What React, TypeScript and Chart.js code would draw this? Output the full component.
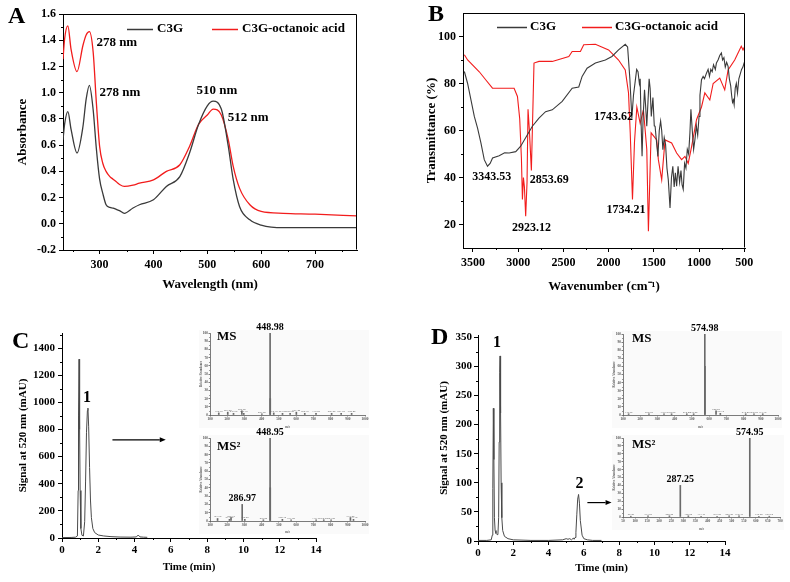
import React, { useEffect, useRef } from 'react';
import { Chart, registerables } from 'chart.js';

Chart.register(...registerables);

const SERIF = '"Liberation Serif", "Times New Roman", Times, serif';
Chart.defaults.font.family = SERIF;

// ---------------- Panel A : UV-vis ----------------
const uvWavelength = [232, 235, 241, 247, 258, 269, 275, 281, 288, 294, 300, 306, 312, 319, 325, 331, 337, 346, 362, 374, 400, 424, 449, 467, 484, 500, 511, 526, 539, 548, 560, 579, 600, 641, 700, 778];
const uvC3G = [0.64, 0.76, 0.855, 0.72, 0.54, 0.74, 0.95, 1.056, 0.87, 0.57, 0.34, 0.23, 0.145, 0.125, 0.12, 0.11, 0.1, 0.08, 0.12, 0.145, 0.183, 0.285, 0.36, 0.54, 0.76, 0.9, 0.935, 0.875, 0.59, 0.34, 0.13, 0.03, -0.01, -0.03, -0.03, -0.03];
const uvC3GOctanoic = [1.255, 1.41, 1.51, 1.33, 1.16, 1.36, 1.44, 1.465, 1.31, 0.92, 0.59, 0.46, 0.4, 0.36, 0.34, 0.32, 0.3, 0.285, 0.295, 0.31, 0.335, 0.4, 0.45, 0.59, 0.76, 0.83, 0.875, 0.83, 0.64, 0.44, 0.27, 0.145, 0.094, 0.08, 0.073, 0.06];
const uvTicksX = [300, 400, 500, 600, 700];
const uvMinorX = [250, 350, 450, 550, 650, 750];
const uvTicksY = [-0.2, 0, 0.2, 0.4, 0.6, 0.8, 1.0, 1.2, 1.4, 1.6];
const uvMinorY = [-0.1, 0.1, 0.3, 0.5, 0.7, 0.9, 1.1, 1.3, 1.5];

// ---------------- Panel B : FT-IR ----------------
const irC3GWavenumber = [3595, 3559, 3522, 3485, 3449, 3412, 3375, 3339, 3310, 3283, 3210, 3150, 3100, 3027, 2972, 2898, 2843, 2770, 2697, 2623, 2513, 2403, 2330, 2293, 2238, 2146, 2036, 1963, 1890, 1816, 1790, 1765, 1743, 1725, 1706, 1690, 1675, 1660, 1651, 1640, 1630, 1618, 1603, 1590, 1578, 1565, 1552, 1541, 1528, 1510, 1495, 1486, 1470, 1455, 1440, 1425, 1413, 1400, 1385, 1370, 1355, 1340, 1321, 1305, 1290, 1275, 1262, 1248, 1232, 1215, 1200, 1188, 1175, 1160, 1145, 1130, 1115, 1101, 1090, 1075, 1060, 1046, 1030, 1015, 1000, 990, 973, 955, 940, 918, 900, 885, 870, 855, 840, 820, 808, 790, 770, 753, 740, 725, 710, 695, 679, 665, 650, 640, 630, 620, 612, 600, 588, 575, 560, 545, 530, 515, 500];
const irC3GTransmittance = [85.1, 80, 73, 66, 61, 54.7, 47.6, 44.8, 46, 48.3, 49.3, 50.5, 50.4, 51, 53.3, 58.2, 61.8, 65.3, 68, 68.8, 72.4, 78, 78.5, 83, 86.5, 88.7, 90, 91.5, 94.3, 96.7, 95.5, 82, 65.3, 75, 80.9, 86, 85, 80, 82, 62, 49, 66, 77.3, 70, 61.8, 72, 82, 78, 66, 74, 62, 61.8, 55, 49, 60, 64, 60, 51.8, 57, 54, 44, 39, 27, 40, 44.8, 36, 42, 36.3, 44.8, 38, 43, 37, 35, 46, 44, 52, 50, 59, 69, 60, 52, 56, 62, 58, 66, 75, 81.6, 83, 82, 84.4, 86, 83, 86, 85, 88, 86, 88.7, 90, 92, 93, 90, 91, 87, 89, 87.3, 82, 79, 75, 72, 73, 71, 78, 80, 76, 82, 84, 86, 87, 89];
const irOctWavenumber = [3595, 3559, 3430, 3357, 3284, 3045, 3008, 2983, 2964, 2953, 2942, 2931, 2917, 2902, 2891, 2876, 2854, 2840, 2825, 2770, 2623, 2440, 2403, 2312, 2275, 2146, 2000, 1890, 1816, 1780, 1761, 1736, 1714, 1688, 1651, 1615, 1578, 1560, 1530, 1468, 1450, 1413, 1376, 1303, 1248, 1193, 1156, 1120, 1083, 1028, 973, 936, 881, 844, 771, 716, 679, 606, 533, 514, 496];
const irOctTransmittance = [92.2, 90, 85, 81.5, 78, 78, 74.5, 65, 48, 30.6, 40, 36, 23.5, 38, 69, 60, 43, 65, 88.7, 89.4, 89.4, 91.5, 93.6, 93.6, 96.5, 96.7, 94.3, 90, 85.8, 76, 59, 30.6, 55, 70, 63, 68.8, 52, 17.1, 59, 56, 47.6, 39, 56, 54.7, 50.4, 47.6, 49, 46, 53, 64.6, 70, 76, 73, 80, 82.3, 77.3, 85.8, 90, 95.8, 94.3, 95.8];
const irTicksX = [3500, 3000, 2500, 2000, 1500, 1000, 500];
const irMinorX = [3250, 2750, 2250, 1750, 1250, 750];
const irTicksY = [20, 40, 60, 80, 100];
const irMinorY = [30, 50, 70, 90];

// ---------------- Panel C : HPLC of C3G ----------------
const hplcCTime = [0, 0.5, 0.75, 0.85, 0.89, 0.91, 0.94, 0.97, 1.0, 1.04, 1.1, 1.18, 1.25, 1.3, 1.35, 1.4, 1.43, 1.47, 1.52, 1.57, 1.62, 1.7, 1.8, 2.0, 2.3, 2.7, 3.2, 3.8, 4.1, 4.2, 4.3, 4.5, 4.7];
const hplcCSignal = [3, 4, 6, 15, 350, 900, 1319, 800, 350, 70, 20, 15, 120, 420, 780, 940, 958, 820, 520, 280, 150, 70, 40, 22, 15, 10, 7, 6, 8, 22, 8, 6, 5];
const hplcCTicksY = [0, 200, 400, 600, 800, 1000, 1200, 1400];
const hplcCMinorY = [100, 300, 500, 700, 900, 1100, 1300, 1500];

// ---------------- Panel D : HPLC of C3G-octanoic acid ----------------
const hplcDTime = [0, 0.5, 0.75, 0.81, 0.84, 0.87, 0.9, 0.93, 0.97, 1.02, 1.08, 1.13, 1.17, 1.2, 1.23, 1.25, 1.28, 1.31, 1.35, 1.4, 1.5, 1.7, 2.0, 3.0, 4.0, 4.8, 5.0, 5.1, 5.2, 5.3, 5.4, 5.45, 5.5, 5.55, 5.6, 5.65, 5.7, 5.75, 5.8, 5.9, 6.0, 6.2, 6.5, 7.0];
const hplcDSignal = [1, 1, 2, 10, 90, 228, 140, 40, 18, 13, 11, 12, 40, 170, 290, 318, 220, 100, 40, 18, 8, 4, 2, 1, 1, 2, 4, 3, 4, 2, 5, 3, 6, 15, 45, 72, 80, 65, 35, 10, 4, 2, 1, 1];
const hplcDTicksY = [0, 50, 100, 150, 200, 250, 300, 350];
const hplcDMinorY = [25, 75, 125, 175, 225, 275, 325];

const timeTicks = [0, 2, 4, 6, 8, 10, 12, 14];
const timeMinor = [1, 3, 5, 7, 9, 11, 13];

// ---------------- MS insets ----------------
const msCmz = [150.9, 203.0, 236.5, 285.0, 296.1, 401.2, 448.98, 449.9, 470.1, 521.0, 565.2, 601.4, 650.3, 715.5, 806.2, 861.6, 922.4];
const msCint = [2.5, 3.5, 2, 5, 2, 1.5, 100, 20, 2.5, 2, 2, 3.5, 2, 2, 2, 2, 2];
const ms2Cmz = [143.9, 213.0, 222.1, 286.97, 302.0, 410.0, 448.95, 449.9, 520.3, 571.0, 716.3, 760.5, 803.2, 915.4, 933.1];
const ms2Cint = [3, 2, 4, 20, 2, 1.5, 100, 40, 2, 1.5, 1.5, 1.5, 1.5, 4, 2];
const msDmz = [132.6, 250.6, 338.1, 382.0, 470.4, 510.2, 574.98, 576.0, 640.2, 665.1, 812.4, 860.5, 911.3];
const msDint = [1.5, 1.5, 1.5, 1.5, 1.5, 1.5, 100, 60, 5, 2, 1.5, 1.5, 1.5];
const ms2Dmz = [82.4, 153.6, 242.2, 287.25, 320.5, 373.3, 439.5, 489.4, 530.3, 574.95, 612.4, 655.6];
const ms2Dint = [1, 1.5, 1.5, 40, 1.5, 1, 1, 1.5, 1.5, 100, 1, 1];
const msTicks1000 = [100, 200, 300, 400, 500, 600, 700, 800, 900, 1000];
const msTicks700 = [50, 100, 150, 200, 250, 300, 350, 400, 450, 500, 550, 600, 650, 700];
const msTicksY = [0, 10, 20, 30, 40, 50, 60, 70, 80, 90, 100];
const msMinorY = [5, 15, 25, 35, 45, 55, 65, 75, 85, 95];

// ---------------------------------------------------------------

type Box = { left: number; top: number; width: number; height: number };
type Area = { left: number; top: number; right: number; bottom: number };

const DARK = '#3a3a3a';
const RED = '#f21c1c';

const pts = (xs: number[], ys: number[]) => xs.map((x, i) => ({ x, y: ys[i] }));
const bfont = (size: number) => ({ family: SERIF, size, weight: 'bold' as const, lineHeight: 1.2 });
const cfont = (size: number) => `bold ${size}px ${SERIF}`;

function layoutFor(box: Box, area: Area) {
  return {
    padTop: area.top - box.top,
    padRight: box.left + box.width - area.right,
    yWidth: area.left - box.left,
    xHeight: box.top + box.height - area.bottom,
  };
}

const extrasPlugin = {
  id: 'extras',
  beforeDraw(chart: any, _a: any, o: any) {
    if (!o || !o.background) return;
    const { ctx, chartArea: ca } = chart;
    const b = o.background;
    ctx.save();
    ctx.fillStyle = b.color;
    ctx.fillRect(ca.left - b.pad[0], ca.top - b.pad[1], ca.right - ca.left + b.pad[0] + b.pad[2], ca.bottom - ca.top + b.pad[1] + b.pad[3]);
    ctx.restore();
  },
  afterDraw(chart: any, _a: any, o: any) {
    if (!o) return;
    const { ctx, chartArea: ca, scales } = chart;
    const xs = scales.x;
    const ys = scales.y;
    ctx.save();
    const color = o.axisColor || '#000';
    if (o.frame) {
      ctx.strokeStyle = color;
      ctx.lineWidth = 1;
      const l = Math.round(ca.left) + 0.5;
      const r = Math.round(ca.right) - 0.5;
      const t = Math.round(ca.top) + 0.5;
      const b = Math.round(ca.bottom) - 0.5;
      ctx.beginPath();
      ctx.moveTo(l, t);
      ctx.lineTo(r, t);
      ctx.lineTo(r, b);
      ctx.stroke();
    }
    const len = o.minorLen || 2;
    ctx.strokeStyle = color;
    ctx.lineWidth = o.minorWidth || 1;
    ctx.beginPath();
    (o.minorX || []).forEach((v: number) => {
      const px = xs.getPixelForValue(v);
      if (px < ca.left - 0.5 || px > ca.right + 0.5) return;
      const x = Math.round(px) + 0.5;
      ctx.moveTo(x, ca.bottom);
      ctx.lineTo(x, ca.bottom + len);
    });
    (o.minorY || []).forEach((v: number) => {
      const py = ys.getPixelForValue(v);
      if (py < ca.top - 0.5 || py > ca.bottom + 0.5) return;
      const y = Math.round(py) + 0.5;
      ctx.moveTo(ca.left, y);
      ctx.lineTo(ca.left - len, y);
    });
    ctx.stroke();

    (o.arrows || []).forEach((a: any) => {
      const x1 = xs.getPixelForValue(a.x1);
      const x2 = xs.getPixelForValue(a.x2);
      const y1 = ys.getPixelForValue(a.y1);
      const y2 = ys.getPixelForValue(a.y2);
      const ang = Math.atan2(y2 - y1, x2 - x1);
      const head = 6;
      ctx.strokeStyle = '#000';
      ctx.fillStyle = '#000';
      ctx.lineWidth = 1.2;
      ctx.beginPath();
      ctx.moveTo(x1, y1);
      ctx.lineTo(x2 - head * Math.cos(ang), y2 - head * Math.sin(ang));
      ctx.stroke();
      ctx.beginPath();
      ctx.moveTo(x2, y2);
      ctx.lineTo(x2 - head * Math.cos(ang) + 2.5 * Math.sin(ang), y2 - head * Math.sin(ang) - 2.5 * Math.cos(ang));
      ctx.lineTo(x2 - head * Math.cos(ang) - 2.5 * Math.sin(ang), y2 - head * Math.sin(ang) + 2.5 * Math.cos(ang));
      ctx.closePath();
      ctx.fill();
    });

    (o.labels || []).forEach((l: any) => {
      ctx.font = l.font;
      ctx.fillStyle = l.color || '#000';
      ctx.textAlign = l.align || 'center';
      ctx.textBaseline = l.baseline || 'middle';
      ctx.fillText(l.text, xs.getPixelForValue(l.x) + (l.dx || 0), ys.getPixelForValue(l.y) + (l.dy || 0));
    });

    if (o.legend) {
      const lg = o.legend;
      let x = ca.left + lg.x;
      const y = ca.top + lg.y;
      ctx.font = lg.font;
      ctx.textAlign = 'left';
      ctx.textBaseline = 'middle';
      chart.data.datasets.forEach((ds: any) => {
        ctx.strokeStyle = ds.borderColor;
        ctx.lineWidth = 1.5;
        ctx.beginPath();
        ctx.moveTo(x, y + 0.5);
        ctx.lineTo(x + lg.lineLen, y + 0.5);
        ctx.stroke();
        x += lg.lineLen + lg.gap;
        ctx.fillStyle = '#000';
        ctx.fillText(ds.label, x, y);
        x += ctx.measureText(ds.label).width + lg.itemGap;
      });
    }
    ctx.restore();
  },
};

type AxisSpec = {
  min: number;
  max: number;
  ticks: number[];
  fmt?: (v: number) => string;
  reverse?: boolean;
  tickSize: number;
  tickPad: number;
  title: string;
  titleSize: number;
  titlePad: number;
  tickLen?: number;
  color?: string;
  borderWidth?: number;
};

function buildAxis(a: AxisSpec, horizontal: boolean, fit: (s: any) => void) {
  const color = a.color || '#000';
  return {
    type: 'linear',
    min: a.min,
    max: a.max,
    reverse: !!a.reverse,
    offset: false,
    afterBuildTicks: (s: any) => {
      s.ticks = a.ticks.map((v) => ({ value: v }));
    },
    afterFit: fit,
    ticks: {
      autoSkip: false,
      maxRotation: 0,
      minRotation: 0,
      padding: a.tickPad,
      color,
      font: bfont(a.tickSize),
      callback: (v: any) => (a.fmt ? a.fmt(Number(v)) : String(v)),
    },
    grid: {
      display: true,
      offset: false,
      drawOnChartArea: false,
      drawTicks: true,
      tickLength: a.tickLen ?? 4,
      tickColor: color,
      tickWidth: a.borderWidth ?? 1,
    },
    border: { display: true, color, width: a.borderWidth ?? 1 },
    title: {
      display: true,
      text: a.title,
      color,
      font: bfont(a.titleSize),
      padding: horizontal ? { top: 0, bottom: a.titlePad } : { top: a.titlePad, bottom: 0 },
    },
  };
}

function makeConfig(p: {
  type: 'line' | 'bar';
  box: Box;
  area: Area;
  datasets: any[];
  x: AxisSpec;
  y: AxisSpec;
  extras: any;
}) {
  const L = layoutFor(p.box, p.area);
  return {
    type: p.type,
    data: { datasets: p.datasets },
    options: {
      responsive: false,
      maintainAspectRatio: false,
      animation: false,
      devicePixelRatio: 1,
      layout: { padding: { top: L.padTop, right: L.padRight, left: 0, bottom: 0 } },
      plugins: { legend: { display: false }, tooltip: { enabled: false }, title: { display: false }, extras: p.extras },
      elements: { point: { radius: 0 } },
      scales: {
        x: buildAxis(p.x, true, (s: any) => {
          s.height = L.xHeight;
        }),
        y: buildAxis(p.y, false, (s: any) => {
          s.width = L.yWidth;
        }),
      },
    },
    plugins: [extrasPlugin],
  };
}

function ChartBox({ box, make }: { box: Box; make: () => any }) {
  const ref = useRef<HTMLCanvasElement>(null);
  useEffect(() => {
    const chart = new Chart(ref.current as HTMLCanvasElement, make());
    return () => chart.destroy();
  }, []);
  return (
    <canvas
      ref={ref}
      width={box.width}
      height={box.height}
      style={{ position: 'absolute', left: box.left, top: box.top, width: box.width, height: box.height }}
    />
  );
}

// ---------------- chart configs ----------------
const boxA: Box = { left: 0, top: 0, width: 395, height: 295 };
const areaA: Area = { left: 63, top: 14, right: 357, bottom: 250 };
const configA = () =>
  makeConfig({
    type: 'line',
    box: boxA,
    area: areaA,
    datasets: [
      { label: 'C3G', data: pts(uvWavelength, uvC3G), borderColor: DARK, borderWidth: 1.3, cubicInterpolationMode: 'monotone', pointRadius: 0, fill: false },
      { label: 'C3G-octanoic acid', data: pts(uvWavelength, uvC3GOctanoic), borderColor: RED, borderWidth: 1.3, cubicInterpolationMode: 'monotone', pointRadius: 0, fill: false },
    ],
    x: { min: 232, max: 778, ticks: uvTicksX, tickSize: 12, tickPad: 4, title: 'Wavelength (nm)', titleSize: 13, titlePad: 3 },
    y: { min: -0.2, max: 1.6, ticks: uvTicksY, fmt: (v) => v.toFixed(1), tickSize: 12, tickPad: 3, title: 'Absorbance', titleSize: 13, titlePad: 15 },
    extras: {
      frame: true,
      minorX: uvMinorX,
      minorY: uvMinorY,
      minorLen: 2,
      legend: { x: 64, y: 15, lineLen: 26, gap: 4, itemGap: 29, font: cfont(13) },
      labels: [
        { x: 294, y: 1.38, text: '278 nm', font: cfont(13), align: 'left' },
        { x: 300, y: 1.0, text: '278 nm', font: cfont(13), align: 'left' },
        { x: 518, y: 1.013, text: '510 nm', font: cfont(13), align: 'center' },
        { x: 538, y: 0.807, text: '512 nm', font: cfont(13), align: 'left' },
      ],
    },
  });

const boxB: Box = { left: 395, top: 0, width: 395, height: 295 };
const areaB: Area = { left: 463, top: 13, right: 745, bottom: 248 };
const configB = () =>
  makeConfig({
    type: 'line',
    box: boxB,
    area: areaB,
    datasets: [
      { label: 'C3G', data: pts(irC3GWavenumber, irC3GTransmittance), borderColor: DARK, borderWidth: 1.1, tension: 0, pointRadius: 0, fill: false },
      { label: 'C3G-octanoic acid', data: pts(irOctWavenumber, irOctTransmittance), borderColor: RED, borderWidth: 1.1, tension: 0, pointRadius: 0, fill: false },
    ],
    x: { min: 492, max: 3610, reverse: true, ticks: irTicksX, tickSize: 12, tickPad: 4, title: 'Wavenumber (cm⁻¹)', titleSize: 13, titlePad: 1 },
    y: { min: 10, max: 110, ticks: irTicksY, tickSize: 12, tickPad: 3, title: 'Transmittance (%)', titleSize: 13, titlePad: 29 },
    extras: {
      frame: true,
      minorX: irMinorX,
      minorY: irMinorY,
      minorLen: 2,
      legend: { x: 34, y: 14, lineLen: 30, gap: 3, itemGap: 26, font: cfont(13) },
      labels: [
        { x: 3292, y: 40.2, text: '3343.53', font: cfont(12) },
        { x: 2655, y: 38.9, text: '2853.69', font: cfont(12) },
        { x: 2853, y: 18.5, text: '2923.12', font: cfont(12) },
        { x: 1808, y: 26.2, text: '1734.21', font: cfont(12) },
        { x: 1946, y: 65.7, text: '1743.62', font: cfont(12) },
      ],
    },
  });

const boxC: Box = { left: 0, top: 290, width: 395, height: 292 };
const areaC: Area = { left: 62, top: 333, right: 316, bottom: 538 };
const configC = () =>
  makeConfig({
    type: 'line',
    box: boxC,
    area: areaC,
    datasets: [{ label: 'Signal at 520 nm', data: pts(hplcCTime, hplcCSignal), borderColor: '#4a4a4a', borderWidth: 1, tension: 0, pointRadius: 0, fill: false }],
    x: { min: 0, max: 14, ticks: timeTicks, tickSize: 11, tickPad: 2, title: 'Time (min)', titleSize: 11, titlePad: 8 },
    y: { min: 0, max: 1512, ticks: hplcCTicksY, tickSize: 11, tickPad: 3, title: 'Signal at 520 nm (mAU)', titleSize: 11, titlePad: 17 },
    extras: {
      minorX: timeMinor,
      minorY: hplcCMinorY,
      minorLen: 2,
      labels: [{ x: 1.38, y: 1032, text: '1', font: cfont(16) }],
      arrows: [{ x1: 2.78, y1: 724, x2: 5.72, y2: 724 }],
    },
  });

const boxD: Box = { left: 395, top: 290, width: 395, height: 292 };
const areaD: Area = { left: 478, top: 335, right: 725, bottom: 541 };
const configD = () =>
  makeConfig({
    type: 'line',
    box: boxD,
    area: areaD,
    datasets: [{ label: 'Signal at 520 nm', data: pts(hplcDTime, hplcDSignal), borderColor: '#4a4a4a', borderWidth: 1, tension: 0, pointRadius: 0, fill: false }],
    x: { min: 0, max: 14, ticks: timeTicks, tickSize: 11, tickPad: 2, title: 'Time (min)', titleSize: 11, titlePad: 7 },
    y: { min: 0, max: 354, ticks: hplcDTicksY, tickSize: 11, tickPad: 2, title: 'Signal at 520 nm (mAU)', titleSize: 11, titlePad: 43 },
    extras: {
      minorX: timeMinor,
      minorY: hplcDMinorY,
      minorLen: 2,
      labels: [
        { x: 1.08, y: 341, text: '1', font: cfont(16) },
        { x: 5.75, y: 98, text: '2', font: cfont(16) },
      ],
      arrows: [{ x1: 6.2, y1: 66, x2: 7.57, y2: 66 }],
    },
  });

function insetConfig(box: Box, area: Area, mz: number[], intensity: number[], xMin: number, xMax: number, xTicks: number[], title: string, titleAt: { x: number; y: number }, peaks: { x: number; y: number; text: string }[]) {
  const grey = '#5a5a5a';
  const named = new Set(peaks.map((pk) => pk.x));
  // tiny m/z tags above the minor peaks, as in the instrument printout
  const tags = mz
    .map((m, i) => ({ m, v: intensity[i] }))
    .filter((d) => d.v < 10 && !named.has(d.m))
    .map((d) => ({ x: d.m, y: d.v, text: d.m.toFixed(2), font: `2.8px ${SERIF}`, color: '#666', baseline: 'bottom', dy: -0.5 }));
  return () =>
    makeConfig({
      type: 'bar',
      box,
      area,
      datasets: [{ label: title, data: pts(mz, intensity), backgroundColor: '#6a6a6a', borderWidth: 0, barThickness: 1, grouped: false }],
      x: { min: xMin, max: xMax, ticks: xTicks, tickSize: 3.5, tickPad: 0.5, title: 'm/z', titleSize: 3, titlePad: 1, tickLen: 1.5, color: grey, borderWidth: 0.8 },
      y: { min: 0, max: 100, ticks: msTicksY, tickSize: 3.5, tickPad: 0.5, title: 'Relative Abundance', titleSize: 3, titlePad: 1, tickLen: 1.5, color: grey, borderWidth: 0.8 },
      extras: {
        background: { color: '#fafafa', pad: [11, 3, 4, 13] },
        axisColor: grey,
        minorY: msMinorY,
        minorLen: 1,
        minorWidth: 0.6,
        labels: [
          ...tags,
          { x: titleAt.x, y: titleAt.y, text: title, font: cfont(13), align: 'left' },
          ...peaks.map((pk) => ({ x: pk.x, y: pk.y, text: pk.text, font: cfont(10), baseline: 'bottom', dy: -1 })),
        ],
      },
    });
}

const boxCms: Box = { left: 198, top: 318, width: 172, height: 112 };
const areaCms: Area = { left: 210, top: 333, right: 365, bottom: 415 };
const configCms = insetConfig(boxCms, areaCms, msCmz, msCint, 100, 1000, msTicks1000, 'MS', { x: 140, y: 95 }, [{ x: 448.98, y: 100, text: '448.98' }]);

const boxCms2: Box = { left: 198, top: 424, width: 172, height: 111 };
const areaCms2: Area = { left: 210, top: 438, right: 365, bottom: 521 };
const configCms2 = insetConfig(boxCms2, areaCms2, ms2Cmz, ms2Cint, 100, 1000, msTicks1000, 'MS²', { x: 140, y: 89 }, [
  { x: 448.95, y: 100, text: '448.95' },
  { x: 286.97, y: 20, text: '286.97' },
]);

const boxDms: Box = { left: 611, top: 318, width: 179, height: 112 };
const areaDms: Area = { left: 623, top: 334, right: 778, bottom: 415 };
const configDms = insetConfig(boxDms, areaDms, msDmz, msDint, 100, 1000, msTicks1000, 'MS', { x: 152, y: 94 }, [{ x: 574.98, y: 100, text: '574.98' }]);

const boxDms2: Box = { left: 611, top: 424, width: 179, height: 108 };
const areaDms2: Area = { left: 623, top: 438, right: 780, bottom: 517 };
const configDms2 = insetConfig(boxDms2, areaDms2, ms2Dmz, ms2Dint, 50, 700, msTicks700, 'MS²', { x: 87, y: 91 }, [
  { x: 574.95, y: 100, text: '574.95' },
  { x: 287.25, y: 40, text: '287.25' },
]);

const letterStyle = (left: number, top: number): React.CSSProperties => ({
  position: 'absolute',
  left,
  top,
  font: `bold 24px ${SERIF}`,
  lineHeight: '24px',
  color: '#000',
});

export default function App() {
  return (
    <div style={{ position: 'absolute', left: 0, top: 0, width: 790, height: 582, background: '#fff', overflow: 'hidden' }}>
      <ChartBox box={boxCms} make={configCms} />
      <ChartBox box={boxCms2} make={configCms2} />
      <ChartBox box={boxDms} make={configDms} />
      <ChartBox box={boxDms2} make={configDms2} />
      <ChartBox box={boxA} make={configA} />
      <ChartBox box={boxB} make={configB} />
      <ChartBox box={boxC} make={configC} />
      <ChartBox box={boxD} make={configD} />
      <div style={letterStyle(8, 3)}>A</div>
      <div style={letterStyle(428, 1)}>B</div>
      <div style={letterStyle(12, 328)}>C</div>
      <div style={letterStyle(431, 324)}>D</div>
    </div>
  );
}
